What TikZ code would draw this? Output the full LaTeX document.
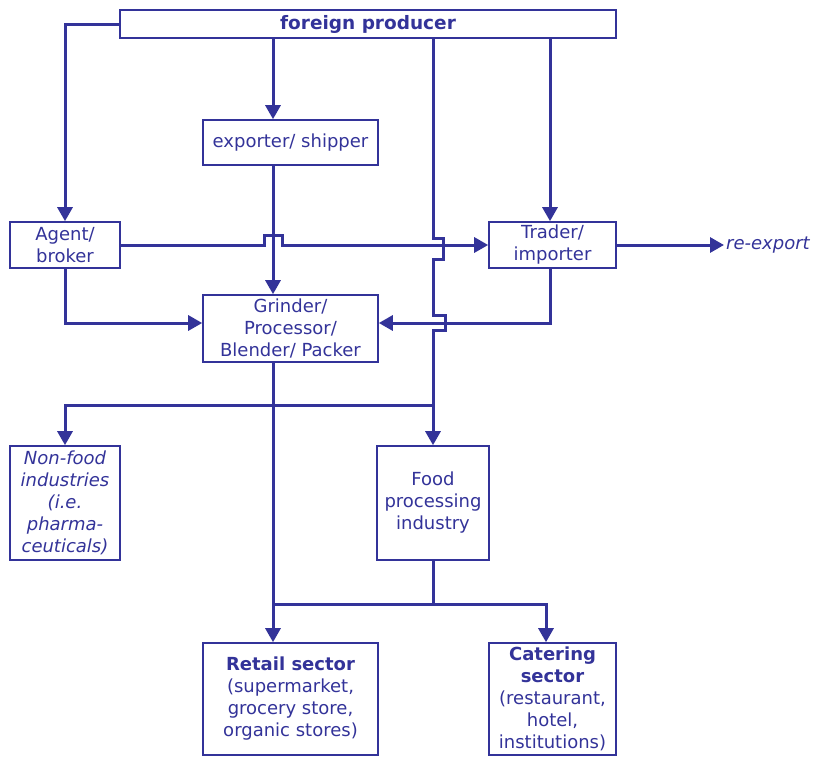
\documentclass[tikz,border=0pt]{standalone}
\usepackage{fontspec}
\setmainfont{DejaVu Sans}
\usetikzlibrary{arrows.meta, calc}
\definecolor{navy}{RGB}{51,51,153}
\tikzset{
flow/.style={draw=navy, line width=3pt}, % plain connector
arr/.style={flow, -{Triangle[length=14pt, width=15pt]}}, % connector with arrow head
box/.style={draw=navy, line width=1.6pt, text=navy, align=center, inner sep=0pt,
  font=\fontsize{18}{22}\selectfont}, % every box of the chain
}

\begin{document}
\begin{tikzpicture}[x=1pt, y=-1pt]
\useasboundingbox (0,0) rectangle (822,758);
% boxes
\node[box, minimum width=496pt, minimum height=28pt,
  font=\fontsize{18.5}{20}\selectfont\bfseries] (prod) at (368,24) {foreign producer};
\node[box, minimum width=175pt, minimum height=45pt] (exp) at (290.5,142.5) {exporter/ shipper};
\node[box, minimum width=110pt, minimum height=46pt] (agent) at (65,245) {Agent/\\broker};
\node[box, minimum width=127pt, minimum height=46pt] (trader) at (552.5,245) {Trader/\\importer};
\node[box, minimum width=175pt, minimum height=67pt] (grind) at (290.5,328.5) {Grinder/\\Processor/\\Blender/ Packer};
\node[box, minimum width=110pt, minimum height=114pt, font=\fontsize{18}{22}\selectfont\itshape] (nonfood) at (65,503)
  {Non-food\\industries\\(i.e.\\pharma-\\ceuticals)};
\node[box, minimum width=112pt, minimum height=114pt] (food) at (433,503) {Food\\processing\\industry};
\node[box, minimum width=175pt, minimum height=112pt] (retail) at (290.5,699)
  {\textbf{Retail sector}\\(supermarket,\\grocery store,\\organic stores)};
\node[box, minimum width=127pt, minimum height=112pt] (cater) at (552.5,699)
  {\textbf{Catering}\\\textbf{sector}\\(restaurant,\\hotel,\\institutions)};
\node[text=navy, anchor=west, inner sep=2pt, font=\fontsize{18}{22}\selectfont\itshape] (reexp) at (724,245) {re-export};

% helper rows and columns
\coordinate (cmid) at (273,0);
\coordinate (ctr) at (550,0);
\coordinate (ccat) at (546,0);
\coordinate (rowg) at (0,323);
\coordinate (rownf) at (0,405);
\coordinate (rowr) at (0,604);

% connectors
\draw[arr] (prod.west) -| (agent.north);
\draw[arr] (prod.south -| cmid) -- (exp.north -| cmid);
\draw[arr] (prod.south -| ctr) -- (trader.north -| ctr);
\draw[arr] (prod.south -| food.north) -- ++(0,200) -- ++(10,0) -- ++(0,21) -- ++(-10,0)
  -- ++(0,56) -- ++(12,0) -- ++(0,15) -- ++(-12,0) -- (food.north);
\draw[arr] (exp.south -| cmid) -- (grind.north -| cmid);
\draw[arr] (agent.east) -- ($(agent.east -| cmid)+(-9,0)$) -- ++(0,-10) -- ++(18,0) -- ++(0,10) -- (trader.west);
\draw[arr] (trader.east) -- (reexp.west);
\draw[arr] (agent.south) |- (grind.west |- rowg);
\draw[arr] (trader.south -| ctr) |- (grind.east |- rowg);
\draw[arr] (rownf -| food.north) -| (nonfood.north);
\draw[arr] (grind.south -| cmid) -- (retail.north -| cmid);
\draw[flow] (food.south) -- (food.south |- rowr);
\draw[arr] (rowr -| cmid) -| (cater.north -| ccat);
\end{tikzpicture}
\end{document}
